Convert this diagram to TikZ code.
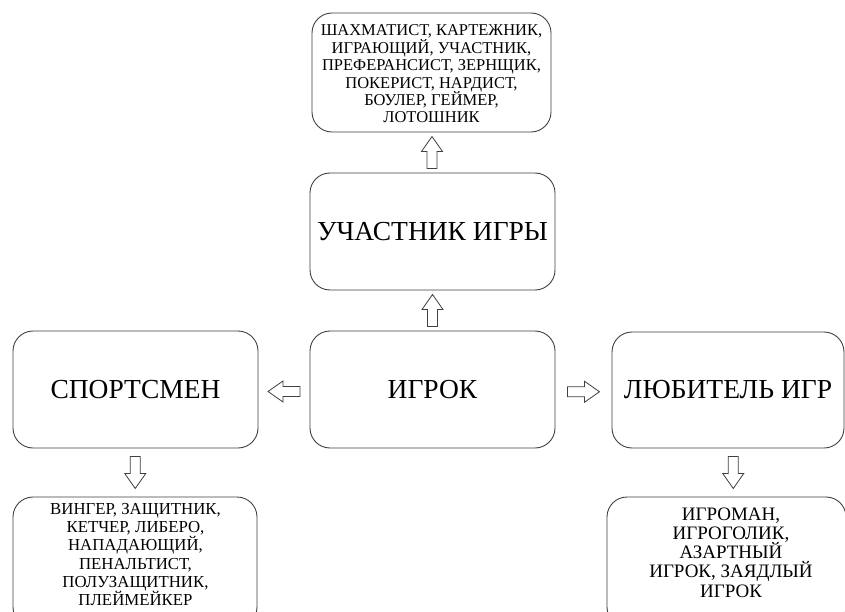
\documentclass[tikz,border=0pt]{standalone}
\usepackage{fontspec}
\setmainfont{Liberation Serif}
\usetikzlibrary{calc}
\definecolor{edge}{HTML}{404040}
\tikzset{
  box/.style={draw=edge, line width=0.9pt, rounded corners=20pt, inner sep=0pt, align=center, text=black},
  big/.style={font=\fontsize{27.5}{30}\selectfont},
  txt/.style={inner sep=0pt, align=center, text=black},
  blockarrow/.style={draw=edge, line width=0.8pt, fill=white, line join=miter}
}
\newcommand\setsz[2]{\fontsize{#1}{#2}\selectfont\lineskiplimit=-30pt\lineskip=0pt}
\newcommand\barrow[2]{%
  \draw[blockarrow, shift={#1}, rotate=#2] (-16,-5) -- (1,-5) -- (1,-10.5) -- (16,0) -- (1,10.5) -- (1,5) -- (-16,5) -- cycle;}
\begin{document}
\begin{tikzpicture}[x=1pt,y=-1pt]
\useasboundingbox (0,0) rectangle (845,612);
\fill[white] (0,0) rectangle (845,612);
\begin{scope}
\clip (0,0) rectangle (845,612);
\node[box, minimum width=239pt, minimum height=119pt] (top) at (431.5,72.5) {};
\node[txt, font=\setsz{16.5}{17.4}] (toptext) at (431.5,74)
  {ШАХМАТИСТ, КАРТЕЖНИК,\\ИГРАЮЩИЙ, УЧАСТНИК,\\ПРЕФЕРАНСИСТ, ЗЕРНЩИК,\\ПОКЕРИСТ, НАРДИСТ,\\БОУЛЕР, ГЕЙМЕР,\\ЛОТОШНИК};
\node[box, big, minimum width=245pt, minimum height=117pt] (uch) at (432.5,231.5) {УЧАСТНИК ИГРЫ};
\node[box, big, minimum width=245pt, minimum height=117pt] (igrok) at (432.5,389.5) {ИГРОК};
\node[box, big, minimum width=245pt, minimum height=117pt] (sport) at (135.5,389.5) {СПОРТСМЕН};
\node[box, big, minimum width=232pt, minimum height=116pt] (lub) at (728,390) {ЛЮБИТЕЛЬ ИГР};
\node[box, minimum width=244pt, minimum height=130pt] (bl) at (135,562) {};
\node[txt, font=\setsz{16.8}{18.2}] (bltext) at (135.5,554.5)
  {ВИНГЕР, ЗАЩИТНИК,\\КЕТЧЕР, ЛИБЕРО,\\НАПАДАЮЩИЙ,\\ПЕНАЛЬТИСТ,\\ПОЛУЗАЩИТНИК,\\ПЛЕЙМЕЙКЕР};
\node[box, minimum width=239pt, minimum height=130pt] (br) at (726.5,562) {};
\node[txt, font=\setsz{19}{19.25}] (brtext) at (731,552.5)
  {ИГРОМАН,\\ИГРОГОЛИК,\\АЗАРТНЫЙ\\ИГРОК, ЗАЯДЛЫЙ\\ИГРОК};
\end{scope}
\barrow{($(top.south)!0.5!(uch.north)$)}{90}
\barrow{($(uch.south)!0.5!(igrok.north)$)}{90}
\barrow{($(sport.east)!0.5!(igrok.west)+(0,2)$)}{180}
\barrow{($(igrok.east)!0.5!(lub.west)+(0,2)$)}{0}
\barrow{($(sport.south)!0.5!(bl.north)$)}{-90}
\barrow{($(lub.south)!0.5!(br.north)+(6,0)$)}{-90}
\end{tikzpicture}
\end{document}
